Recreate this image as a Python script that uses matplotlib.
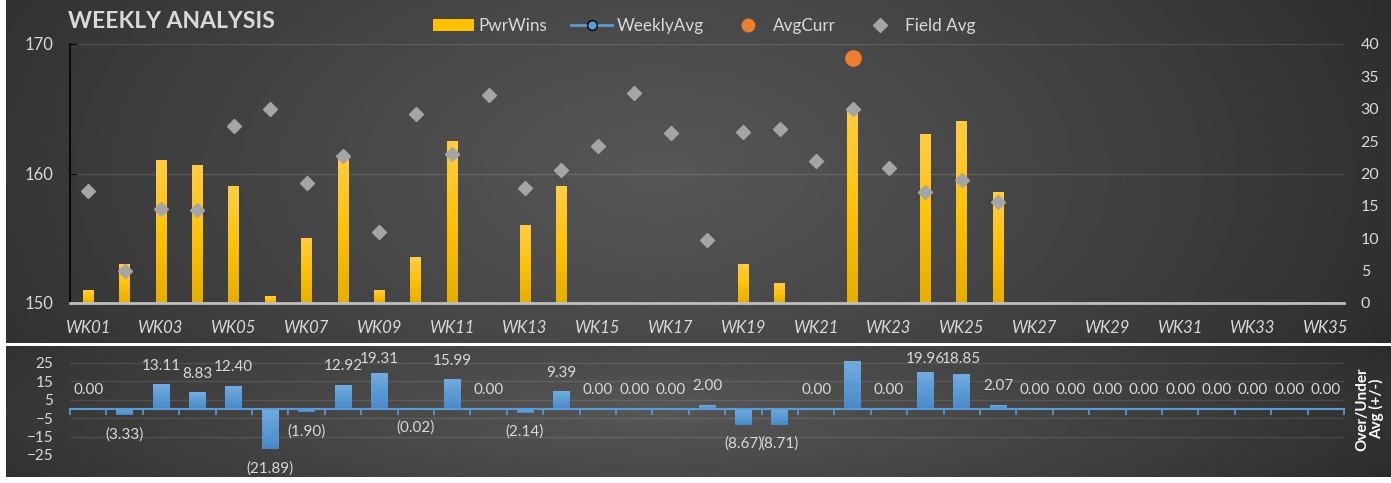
import matplotlib.pyplot as plt
import numpy as np
from matplotlib.colors import LinearSegmentedColormap
from matplotlib.lines import Line2D
from matplotlib.patches import Patch

plt.rcParams['font.family'] = ['Lato', 'DejaVu Sans']

nan = np.nan

# ── data ──
weeks = [f'WK{i:02d}' for i in range(1, 36)]
pwr_wins = [151, 153, 161, 160.6, 159, 150.5, 155, 161.4, 151, 153.5,
            162.5, nan, 156, 159, nan, nan, nan, nan, 153, 151.5,
            nan, 165, nan, 163, 164, 158.5] + [nan] * 9
weekly_avg = [nan] * 35
avg_curr = [nan] * 21 + [37.9] + [nan] * 13
field_avg = [17.3, 5.0, 14.5, 14.4, 27.3, 30.0, 18.5, 22.7, 11.0, 29.2,
             23.0, 32.2, 17.8, 20.6, 24.2, 32.4, 26.2, 9.7, 26.4, 26.8,
             21.9, 30.0, 20.9, 17.1, 19.0, 15.6] + [nan] * 9
over_under = [0.00, -3.33, 13.11, 8.83, 12.40, -21.89, -1.90, 12.92, 19.31, -0.02,
              15.99, 0.00, -2.14, 9.39, 0.00, 0.00, 0.00, 2.00, -8.67, -8.71,
              0.00, 26.0, 0.00, 19.96, 18.85, 2.07] + [0.00] * 9
ou_ticks = [-25, -15, -5, 5, 15, 25]

# ── colours ──
C_TXT = '#D9D9D9'
C_YEL = '#FFC000'
C_BLUE = '#5B9BD5'
C_ORANGE = '#ED7D31'
C_GRAY = '#A5A5A5'

W, H = 1391, 483
fig = plt.figure(figsize=(W / 100, H / 100), dpi=100, facecolor='white')


def px(x0, y0, x1, y1):
    # pixel box (top-left origin) -> figure rect
    return [x0 / W, 1 - y1 / H, (x1 - x0) / W, (y1 - y0) / H]


def background(rect):
    a = fig.add_axes(rect, zorder=0)
    yy, xx = np.mgrid[0:1:120j, 0:1:400j]
    r = np.sqrt(((xx - 0.47) / 0.62) ** 2 + ((yy - 0.5) / 1.4) ** 2)
    v = 0.15 + 0.19 * np.clip(1 - r, 0, 1) ** 0.8
    a.imshow(v, cmap='gray', vmin=0, vmax=1, aspect='auto',
             extent=[0, 1, 0, 1], interpolation='bilinear')
    a.axis('off')
    return a


def shade(axis, patches, colors, ymin):
    cmap = LinearSegmentedColormap.from_list('g', colors)
    grad = np.linspace(0, 1, 64).reshape(-1, 1)
    for p in patches:
        h = p.get_height()
        if np.isnan(h) or h == 0:
            continue
        x0, y0, w = p.get_x(), p.get_y(), p.get_width()
        lo, hi = sorted([y0, y0 + h])
        lo = max(lo, ymin)
        axis.imshow(grad, cmap=cmap, extent=[x0, x0 + w, lo, hi], origin='lower',
                    aspect='auto', zorder=2, interpolation='bilinear')
        p.set_visible(False)


background(px(6, 0, 1391, 343))
bg_bot = background(px(6, 346, 1391, 477))

x = np.arange(len(weeks))

# ════════ top panel ════════
ax = fig.add_axes(px(70, 44, 1344, 303), zorder=1)
ax.set_facecolor('none')
bars = ax.bar(x, pwr_wins, width=0.3, color=C_YEL, zorder=2)
shade(ax, bars, ['#E6AE00', '#FFC20A', '#FFCC45'], 150)
ax.set_xlim(-0.5, len(weeks) - 0.5)
ax.set_ylim(150, 170)
ax.set_yticks([150, 160, 170])
ax.grid(axis='y', color='white', alpha=0.12, lw=1)
ax.set_axisbelow(True)
ax.set_xticks(x[::2])
ax.set_xticklabels(weeks[::2], style='italic')
ax.tick_params(axis='x', length=0, pad=12, labelsize=12, labelcolor=C_TXT)
ax.tick_params(axis='y', direction='in', length=5, color='black', pad=12,
               labelsize=12, labelcolor=C_TXT)
for s in ['top', 'right']:
    ax.spines[s].set_visible(False)
ax.spines['left'].set_color('black')
ax.spines['left'].set_linewidth(1.2)
ax.spines['bottom'].set_color('#BFBFBF')
ax.spines['bottom'].set_linewidth(2)

ax2 = ax.twinx()
ax2.set_ylim(0, 40)
ax2.set_yticks(range(0, 41, 5))
ax2.plot(x, weekly_avg, '-o', color=C_BLUE, mec='black')
ax2.plot(x, field_avg, 'D', color=C_GRAY, ms=7, zorder=3)
ax2.plot(x, avg_curr, 'o', color=C_ORANGE, ms=11, zorder=3)
for s in ax2.spines.values():
    s.set_visible(False)
ax2.tick_params(axis='y', length=0, pad=12, labelsize=11.5, labelcolor=C_TXT)

# ════════ bottom panel ════════
axb = fig.add_axes(px(70, 353.8, 1344, 455), zorder=1)
axb.set_facecolor('none')
bars_b = axb.bar(x, over_under, width=0.46, color=C_BLUE, zorder=2)
shade(axb, bars_b, ['#4A89C6', '#5B9BD5', '#74ABDE'], -25)
axb.set_xlim(-0.5, len(weeks) - 0.5)
axb.set_ylim(-25, 30)
axb.set_yticks(ou_ticks)
axb.grid(axis='y', color='white', alpha=0.1, lw=1)
axb.set_axisbelow(True)
for s in ['top', 'right', 'left']:
    axb.spines[s].set_visible(False)
axb.spines['bottom'].set_position(('data', 0))
axb.spines['bottom'].set_color(C_BLUE)
axb.spines['bottom'].set_linewidth(1.5)
axb.spines['bottom'].set_zorder(3)
axb.set_xticks(np.arange(-0.5, len(weeks), 1))
axb.tick_params(axis='x', direction='out', length=4, width=1.2, color=C_BLUE,
                labelbottom=False)
axb.tick_params(axis='y', length=0, pad=12, labelsize=11, labelcolor=C_TXT)

# data labels: ~19 px outside the bar end, kept inside the panel (Excel style)
off = 10.3
for i, v in enumerate(over_under):
    if v > max(ou_ticks):
        continue  # label falls outside the panel in the original
    lbl = f'{v:.2f}' if v >= 0 else f'({-v:.2f})'
    ly = min(v + off, 27.2) if v >= 0 else v - off
    t = axb.text(i, ly, lbl, ha='center', va='center', fontsize=11, color=C_TXT)
    t.set_clip_box(bg_bot.bbox)

fig.text(1370 / W, 1 - 409 / H, 'Over/Under\nAvg (+/-)', rotation=90,
         fontsize=11, fontweight='bold', color='white', ha='center', va='center',
         multialignment='center', linespacing=1.0)

# ── title & legend ──
fig.text(68 / W, 1 - 21 / H, 'WEEKLY ANALYSIS', fontsize=16.5, fontweight='bold',
         color=C_TXT, ha='left', va='center')

handles = [
    Patch(facecolor=C_YEL),
    Line2D([], [], color=C_BLUE, lw=2, marker='o', mfc=C_BLUE, mec='black', ms=7),
    Line2D([], [], ls='none', marker='o', color=C_ORANGE, ms=9),
    Line2D([], [], ls='none', marker='D', color=C_GRAY, ms=7),
]
fig.legend(handles, ['PwrWins', 'WeeklyAvg', 'AvgCurr', 'Field Avg'], loc='center',
           bbox_to_anchor=(704.5 / W, 1 - 26 / H), ncol=4, frameon=False, fontsize=12.3,
           labelcolor=C_TXT, handlelength=2.4, handletextpad=0.25, columnspacing=1.4)

fig.savefig('out.png', dpi=100, facecolor='white')
